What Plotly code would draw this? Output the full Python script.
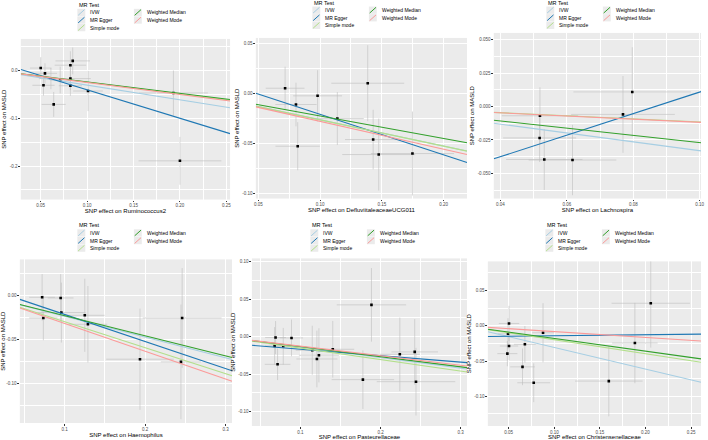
import plotly.graph_objects as go

W, H = 708, 440

METHOD_LABELS = ["IVW", "MR Egger", "Simple mode", "Weighted Median", "Weighted Mode"]
METHOD_COLORS = ["#a6cee3", "#1f78b4", "#b2df8a", "#33a02c", "#fb9a99"]
LEGEND_TITLE = "MR Test"
OUTCOME = "MASLD"

# ---------------- Panel 1: Ruminococcus2 ----------------
rum_name = "Ruminococcus2"
rum_bx = [0.050, 0.0546, 0.053, 0.061, 0.064, 0.082, 0.0845, 0.082, 0.082, 0.071, 0.101, 0.193, 0.200]
rum_by = [0.005, -0.006, -0.031, -0.017, -0.071, 0.011, 0.020, -0.017, -0.032, -0.020, -0.043, -0.047, -0.189]
rum_sx = [0.0116, 0.013, 0.012, 0.013, 0.013, 0.017, 0.0186, 0.022, 0.0125, 0.011, 0.016, 0.037, 0.0446]
rum_sy = [0.0227, 0.021, 0.0216, 0.022, 0.026, 0.029, 0.028, 0.024, 0.021, 0.028, 0.042, 0.047, 0.05]
rum_intercept = [0.0, 0.019, 0.0, 0.0, 0.0]
rum_slope = [-0.307, -0.595, -0.245, -0.239, -0.252]
rum_xticks = [0.05, 0.10, 0.15, 0.20, 0.25]
rum_xlabels = ["0.05", "0.10", "0.15", "0.20", "0.25"]
rum_yticks = [0.0, -0.1, -0.2]
rum_ylabels = ["0.0", "-0.1", "-0.2"]

# ---------------- Panel 2: DefluviitaleaceaeUCG011 ----------------
defl_name = "DefluviitaleaceaeUCG011"
defl_bx = [0.0717, 0.0805, 0.0819, 0.098, 0.114, 0.1386, 0.143, 0.1475, 0.1748]
defl_by = [0.0053, -0.011, -0.0527, -0.0023, -0.025, 0.0103, -0.046, -0.061, -0.060]
defl_sx = [0.0157, 0.0167, 0.018, 0.0198, 0.0214, 0.0295, 0.0228, 0.0295, 0.0337]
defl_sy = [0.0215, 0.0218, 0.024, 0.0256, 0.0265, 0.038, 0.0298, 0.036, 0.042]
defl_intercept = [0.0, 0.0197, 0.0, 0.0, 0.0]
defl_slope = [-0.262, -0.405, -0.263, -0.225, -0.278]
defl_xticks = [0.05, 0.10, 0.15, 0.20]
defl_xlabels = ["0.05", "0.10", "0.15", "0.20"]
defl_yticks = [0.05, 0.0, -0.05, -0.10]
defl_ylabels = ["0.05", "0.00", "-0.05", "-0.10"]

# ---------------- Panel 3: Lachnospira ----------------
lach_name = "Lachnospira"
lach_bx = [0.0519, 0.0518, 0.0532, 0.0617, 0.0769, 0.0797]
lach_by = [-0.0069, -0.0235, -0.0396, -0.040, -0.0059, 0.0109]
lach_sx = [0.0115, 0.011, 0.0115, 0.0132, 0.0156, 0.0177]
lach_sy = [0.0213, 0.018, 0.0228, 0.0263, 0.0287, 0.0334]
lach_intercept = [0.0, -0.0697, 0.0, 0.0, 0.0]
lach_slope = [-0.33, 0.805, -0.115, -0.27, -0.118]
lach_xticks = [0.04, 0.06, 0.08, 0.10]
lach_xlabels = ["0.04", "0.06", "0.08", "0.10"]
lach_yticks = [0.050, 0.025, 0.0, -0.025, -0.050]
lach_ylabels = ["0.050", "0.025", "0.000", "-0.025", "-0.050"]

# ---------------- Panel 4: Haemophilus ----------------
haem_name = "Haemophilus"
haem_bx = [0.072, 0.0735, 0.095, 0.0959, 0.125, 0.1289, 0.1936, 0.246, 0.2445]
haem_by = [-0.0019, -0.0253, -0.0026, -0.0192, -0.0223, -0.0325, -0.0721, -0.0253, -0.0751]
haem_sx = [0.016, 0.0175, 0.016, 0.03, 0.0247, 0.024, 0.042, 0.049, 0.025]
haem_sy = [0.0264, 0.0253, 0.027, 0.034, 0.0415, 0.0434, 0.0574, 0.0566, 0.065]
haem_intercept = [0.0, 0.0094, 0.0, 0.0, 0.0]
haem_slope = [-0.235, -0.3075, -0.295, -0.228, -0.315]
haem_xticks = [0.1, 0.2, 0.3]
haem_xlabels = ["0.1", "0.2", "0.3"]
haem_yticks = [0.0, -0.05, -0.10]
haem_ylabels = ["0.00", "-0.05", "-0.10"]

# ---------------- Panel 5: Pasteurellaceae ----------------
past_name = "Pasteurellaceae"
past_bx = [0.069, 0.0678, 0.0715, 0.0786, 0.0889, 0.1148, 0.1206, 0.1231, 0.1404, 0.1887, 0.178, 0.2241, 0.2427, 0.2443]
past_by = [-0.0013, -0.0124, -0.0369, -0.0129, -0.0018, -0.0182, -0.0298, -0.0249, -0.0169, 0.0422, -0.0573, -0.0236, -0.0204, -0.060]
past_sx = [0.013, 0.012, 0.016, 0.014, 0.0144, 0.0206, 0.0256, 0.025, 0.0268, 0.0433, 0.039, 0.025, 0.029, 0.049]
past_sy = [0.022, 0.025, 0.021, 0.0244, 0.0244, 0.0326, 0.0377, 0.036, 0.0377, 0.049, 0.039, 0.049, 0.0437, 0.045]
past_intercept = [0.0, -0.0082, 0.0, 0.0, 0.0]
past_slope = [-0.14, -0.086, -0.153, -0.134, -0.127]
past_xticks = [0.1, 0.2, 0.3]
past_xlabels = ["0.1", "0.2", "0.3"]
past_yticks = [0.10, 0.05, 0.0, -0.05, -0.10]
past_ylabels = ["0.10", "0.05", "0.00", "-0.05", "-0.10"]

# ---------------- Panel 6: Christensenellaceae ----------------
chri_name = "Christensenellaceae"
chri_bx = [0.0504, 0.0493, 0.0504, 0.0486, 0.0678, 0.0652, 0.0775, 0.0877, 0.1598, 0.1884, 0.2058]
chri_by = [0.0033, -0.0113, -0.0287, -0.0395, -0.0263, -0.0583, -0.0809, -0.0099, -0.0785, -0.0245, 0.032]
chri_sx = [0.0112, 0.011, 0.010, 0.011, 0.012, 0.0135, 0.018, 0.012, 0.037, 0.025, 0.043]
chri_sy = [0.025, 0.022, 0.020, 0.018, 0.026, 0.026, 0.0275, 0.042, 0.05, 0.057, 0.063]
chri_intercept = [0.0, -0.0155, 0.0, 0.0, 0.0]
chri_slope = [-0.307, 0.014, -0.198, -0.180, -0.083]
chri_xticks = [0.05, 0.10, 0.15, 0.20, 0.25]
chri_xlabels = ["0.05", "0.10", "0.15", "0.20", "0.25"]
chri_yticks = [0.05, 0.0, -0.05, -0.10]
chri_ylabels = ["0.05", "0.00", "-0.05", "-0.10"]

panels = [
    dict(name=rum_name, bx=rum_bx, by=rum_by, sx=rum_sx, sy=rum_sy, a=rum_intercept, b=rum_slope,
         xt=rum_xticks, xl=rum_xlabels, yt=rum_yticks, yl=rum_ylabels),
    dict(name=defl_name, bx=defl_bx, by=defl_by, sx=defl_sx, sy=defl_sy, a=defl_intercept, b=defl_slope,
         xt=defl_xticks, xl=defl_xlabels, yt=defl_yticks, yl=defl_ylabels),
    dict(name=lach_name, bx=lach_bx, by=lach_by, sx=lach_sx, sy=lach_sy, a=lach_intercept, b=lach_slope,
         xt=lach_xticks, xl=lach_xlabels, yt=lach_yticks, yl=lach_ylabels),
    dict(name=haem_name, bx=haem_bx, by=haem_by, sx=haem_sx, sy=haem_sy, a=haem_intercept, b=haem_slope,
         xt=haem_xticks, xl=haem_xlabels, yt=haem_yticks, yl=haem_ylabels),
    dict(name=past_name, bx=past_bx, by=past_by, sx=past_sx, sy=past_sy, a=past_intercept, b=past_slope,
         xt=past_xticks, xl=past_xlabels, yt=past_yticks, yl=past_ylabels),
    dict(name=chri_name, bx=chri_bx, by=chri_by, sx=chri_sx, sy=chri_sy, a=chri_intercept, b=chri_slope,
         xt=chri_xticks, xl=chri_xlabels, yt=chri_yticks, yl=chri_ylabels),
]

# geometry (pixels): plot box (left, top, right, bottom), axis ranges, legend anchor
geometry = [
    dict(box=(19, 39, 230, 200), xr=(0.0286, 0.254), yr=(-0.27, 0.066), lx=76, ly=5),
    dict(box=(256, 38, 469, 199), xr=(0.048, 0.219), yr=(-0.105, 0.0556), lx=313, ly=2.7),
    dict(box=(496, 33, 705, 199), xr=(0.038, 0.1004), yr=(-0.0688, 0.055), lx=549, ly=2.7),
    dict(box=(18, 260, 232, 424), xr=(0.0443, 0.308), yr=(-0.1445, 0.0411), lx=76, ly=226),
    dict(box=(252, 259, 469, 427), xr=(0.0394, 0.308), yr=(-0.119, 0.104), lx=311, ly=226),
    dict(box=(490, 262, 705, 427), xr=(0.0272, 0.2609), yr=(-0.1423, 0.0914), lx=548, ly=226),
]

FONT = "Liberation Sans"


def px(x):
    return x / W


def py(y):
    return 1 - y / H


def minor_vals(ticks):
    t = sorted(ticks)
    step = t[1] - t[0]
    vals = [t[0] - step / 2]
    for i in range(len(t) - 1):
        vals.append((t[i] + t[i + 1]) / 2)
    vals.append(t[-1] + step / 2)
    return vals


fig = go.Figure()
shapes = []
annotations = []
layout_axes = {}

for i, (p, g) in enumerate(zip(panels, geometry)):
    n = i + 1
    xa = "x" if n == 1 else f"x{n}"
    ya = "y" if n == 1 else f"y{n}"
    xkey = "xaxis" if n == 1 else f"xaxis{n}"
    ykey = "yaxis" if n == 1 else f"yaxis{n}"
    l, t, r, b = g["box"]

    # error bars + points
    fig.add_trace(go.Scatter(
        x=p["bx"], y=p["by"], mode="markers", xaxis=xa, yaxis=ya, showlegend=False,
        marker=dict(color="black", size=2.6, symbol="square"),
        error_x=dict(type="data", array=p["sx"], color="#BEBEBE", thickness=0.6, width=0),
        error_y=dict(type="data", array=p["sy"], color="#BEBEBE", thickness=0.6, width=0),
        hoverinfo="skip",
    ))
    # regression lines (abline across full x range)
    x0, x1 = g["xr"]
    for k in range(5):
        fig.add_trace(go.Scatter(
            x=[x0, x1], y=[p["a"][k] + p["b"][k] * x0, p["a"][k] + p["b"][k] * x1],
            mode="lines", xaxis=xa, yaxis=ya, showlegend=False,
            line=dict(color=METHOD_COLORS[k], width=1.1), name=METHOD_LABELS[k],
        ))

    common = dict(
        showgrid=True, gridcolor="white", gridwidth=0.8, zeroline=False, showline=False,
        ticks="outside", ticklen=1.5, tickwidth=0.5, tickcolor="#333333",
        tickfont=dict(size=4.5, color="#4D4D4D", family=FONT),
        title_font=dict(size=6, color="black", family=FONT),
    )
    layout_axes[xkey] = dict(
        common, domain=[px(l), px(r)], range=list(g["xr"]), anchor=ya,
        tickmode="array", tickvals=p["xt"], ticktext=p["xl"],
        minor=dict(tickvals=minor_vals(p["xt"]), showgrid=True, gridcolor="white", gridwidth=0.4, ticks=""),
        title=dict(text="SNP effect on " + p["name"], standoff=1),
    )
    layout_axes[ykey] = dict(
        common, domain=[py(b), py(t)], range=list(g["yr"]), anchor=xa,
        tickmode="array", tickvals=p["yt"], ticktext=p["yl"],
        minor=dict(tickvals=minor_vals(p["yt"]), showgrid=True, gridcolor="white", gridwidth=0.4, ticks=""),
        title=dict(text="SNP effect on " + OUTCOME, standoff=2),
    )

    # legend (drawn manually, ggplot style)
    lx, ly = g["lx"], g["ly"]
    annotations.append(dict(
        x=px(lx), y=py(ly), xref="paper", yref="paper", text=LEGEND_TITLE, showarrow=False,
        xanchor="left", yanchor="middle", font=dict(size=5.5, color="black", family=FONT),
    ))
    col_pos = [(0, 0), (0, 1), (0, 2), (1, 0), (1, 1)]
    for k, (c, rrow) in enumerate(col_pos):
        kx = lx + c * 57
        cy = ly + 7.5 + rrow * 7.6
        kw, kh = 8, 7.3
        shapes.append(dict(type="rect", xref="paper", yref="paper",
                           x0=px(kx), x1=px(kx + kw), y0=py(cy + kh / 2), y1=py(cy - kh / 2),
                           fillcolor="#EBEBEB", line=dict(width=0), layer="above"))
        shapes.append(dict(type="line", xref="paper", yref="paper",
                           x0=px(kx + 0.8), x1=px(kx + kw - 0.8), y0=py(cy + kh / 2 - 0.8), y1=py(cy - kh / 2 + 0.8),
                           line=dict(color=METHOD_COLORS[k], width=1), layer="above"))
        annotations.append(dict(
            x=px(kx + 11), y=py(cy), xref="paper", yref="paper", text=METHOD_LABELS[k], showarrow=False,
            xanchor="left", yanchor="middle", font=dict(size=5, color="black", family=FONT),
        ))

fig.update_layout(
    width=W, height=H, margin=dict(l=0, r=0, t=0, b=0),
    paper_bgcolor="white", plot_bgcolor="#EBEBEB",
    font=dict(family=FONT),
    shapes=shapes, annotations=annotations, showlegend=False,
    **layout_axes,
)

fig.write_html("out.html")
